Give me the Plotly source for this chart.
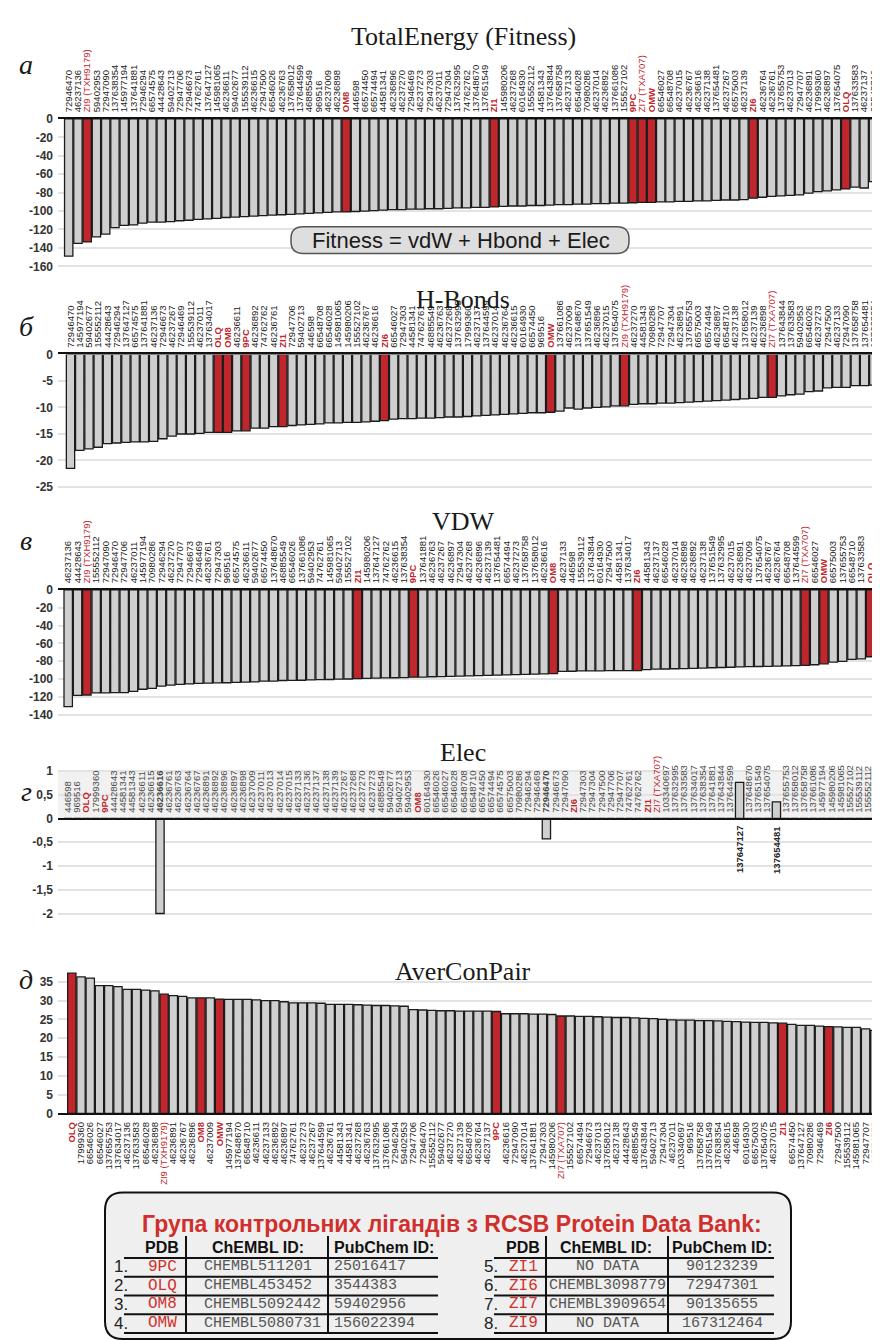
import plotly.graph_objects as go

W, H = 880, 1341
RED = '#c0272d'
BAR = '#cfcfcf'
EDGE = '#1b1b1b'
GRID = '#e3e3e3'
LBL_FONT = 'Liberation Sans Narrow, Arial Narrow, Liberation Sans, Arial'

CONTROLS = ['9PC', 'OLQ', 'OM8', 'OMW', 'ZI1', 'ZI6', 'ZI7 (TXA707)', 'ZI9 (TXH9179)']

# ---------------- data ----------------
te_labels = ['72946470', '46237136', 'ZI9 (TXH9179)', '59402953', '72947090', '137638354', '145977194', '137641881', '72946294', '66574575',
             '44428643', '59402713', '72947706', '72946673', '74762761', '137647127', '145981065', '46236611', '59402677', '155539112',
             '46236615', '72947500', '66546026', '46236763', '137658012', '137644599', '46885549', '969516', '46237009', '46236898',
             'OM8', '446598', '66574450', '66574494', '44581341', '46236896', '46237270', '72946469', '46237273', '72947303',
             '46237011', '72947304', '137632995', '74762762', '137648670', '137651549', 'ZI1', '145980206', '46237268', '60164930',
             '155552112', '44581343', '137643844', '137658758', '46237133', '66546028', '70980286', '46237014', '46236892', '137661086',
             '155527102', '9PC', 'ZI7 (TXA707)', 'OMW', '66546027', '66548708', '46237015', '46236767', '46236616', '46237138',
             '137654481', '46237267', '66575003', '46237139', 'ZI6', '46236764', '46236761', '137655753', '46237013', '72947707',
             '46236891', '17999360', '46236897', '137654075', 'OLQ', '137633583', '46237137', '66548710', '103340697', '137634017']
te_values = [-149, -135, -133.5, -128, -125, -118, -115.5, -115, -113, -112,
             -112, -111.5, -110.5, -110, -109, -108.5, -108, -107, -106.5, -106,
             -105.5, -105, -104.5, -104, -103.5, -103, -102.5, -102, -101.5, -101,
             -101, -100.5, -100, -99.5, -99, -98.5, -98.5, -98, -98, -97.5,
             -97.5, -97, -96.5, -96.5, -96, -96, -95.5, -95, -94.5, -94.5,
             -94, -94, -93.5, -93, -93, -92.5, -92.5, -92, -92, -91.5,
             -91.5, -91, -90.5, -90.5, -90, -90, -89.5, -89.5, -89, -89,
             -88.5, -88, -88, -87.5, -86, -85, -84, -83.5, -83, -82.5,
             -80.5, -79, -78, -77, -76, -74, -75, -68, -68, -66]

hb_labels = ['72946470', '145977194', '59402677', '155552112', '44428643', '72946294', '137647127', '66574575', '137641881', '46237136',
             '72946673', '46237267', '72946469', '155539112', '46237011', '137634017', 'OLQ', 'OM8', '46236611', '9PC',
             '46236892', '74762762', '46236761', 'ZI1', '72947706', '59402713', '446598', '66548708', '66546028', '145981065',
             '145980206', '155527102', '46236767', '46236616', 'ZI6', '66546027', '72947303', '44581341', '74762761', '46885549',
             '46236763', '46237268', '137632995', '17999360', '46237137', '137644599', '46237014', '46236764', '46236615', '60164930',
             '66574450', '969516', 'OMW', '137661086', '46237009', '137648670', '137651549', '46236896', '46237015', '137654075',
             'ZI9 (TXH9179)', '46237270', '44581343', '70980286', '72947707', '72947304', '46236891', '137655753', '66575003', '66574494',
             '46236897', '66548710', '46237138', '137658012', '46237139', '46236898', 'ZI7 (TXA707)', '137643844', '137633583', '59402953',
             '66546026', '46237273', '72947500', '46237133', '72947090', '137658758', '137654481', '137638354', '103340697', '46237013']
hb_values = [-21.5, -18.1, -17.8, -17.5, -16.8, -16.7, -16.6, -16.5, -16.5, -16.4,
             -15.9, -15.4, -15.0, -15.0, -14.9, -14.7, -14.7, -14.7, -14.4, -14.4,
             -13.9, -13.9, -13.6, -13.6, -13.4, -13.3, -13.2, -13.1, -12.9, -12.9,
             -12.8, -12.8, -12.7, -12.6, -12.5, -12.2, -12.1, -12.1, -12.0, -12.0,
             -11.9, -11.8, -11.8, -11.7, -11.6, -11.5, -11.4, -11.3, -11.2, -11.1,
             -11.0, -11.0, -10.9, -10.7, -10.1, -10.3, -10.1, -10.0, -9.9, -9.7,
             -9.7, -9.4, -9.3, -9.3, -9.2, -9.2, -9.1, -9.0, -8.9, -8.8,
             -8.7, -8.6, -8.5, -8.4, -8.3, -8.1, -8.1, -7.8, -7.6, -7.5,
             -7.0, -6.9, -6.3, -6.2, -6.2, -5.9, -5.9, -5.8, -5.6, -5.0]

vdw_labels = ['46237136', '44428643', 'ZI9 (TXH9179)', '155552112', '72947090', '72946470', '72947706', '46237011', '145977194', '70980286',
              '72946294', '46237270', '72947707', '72946673', '72946469', '46236761', '72947303', '969516', '66574575', '46236611',
              '59402677', '66574450', '137648670', '46885549', '66546026', '137661086', '59402953', '74762761', '145981065', '59402713',
              '155527102', 'ZI1', '145980206', '137647127', '74762762', '46236615', '137638354', '9PC', '137641881', '46236763',
              '46237267', '46236897', '72947304', '46237268', '46236896', '46237139', '137654481', '66574494', '46237273', '137658758',
              '137658012', '46236616', 'OM8', '46237133', '446598', '155539112', '137643844', '60164930', '72947500', '44581341',
              '137634017', 'ZI6', '44581343', '46237137', '66546028', '46237014', '46236898', '46236892', '46237138', '137651549',
              '137632995', '46237015', '46236891', '46237009', '137654075', '46236767', '46236764', '66548708', '137644599', 'ZI7 (TXA707)',
              '66546027', 'OMW', '66575003', '137655753', '66548710', '137633583', 'OLQ', '17999360', '103340697', '46237013']
vdw_values = [-131, -118.5, -118, -115.5, -115.5, -115.3, -115.2, -114, -111.5, -110.5,
              -108, -107, -106, -105.4, -105, -104.6, -104.3, -104.2, -103.8, -103.5,
              -103.3, -102.4, -102.3, -101.7, -101.5, -101.4, -101, -100.8, -100.6, -100.2,
              -100, -99.5, -99.3, -99, -98.8, -98.6, -98.4, -98, -97.8, -97.5,
              -97.3, -97, -96.8, -96.5, -96.3, -96, -95.7, -95.4, -95.1, -94.8,
              -94.5, -94.3, -94, -91.5, -91.3, -91, -91, -90.8, -90.7, -90.6,
              -90.5, -90.5, -89.5, -89, -88.8, -88.5, -88.3, -88, -87.7, -87.4,
              -87.1, -86.8, -86.5, -86.2, -86, -85.8, -85.5, -85.2, -85, -84.7,
              -84, -83, -81, -80.3, -78, -77.5, -75, -73, -58, -55]

elec_labels = ['446598', '969516', 'OLQ', '17999360', '9PC', '44428643', '44581341', '44581343', '46236611', '46236615',
               '46236616', '46236761', '46236763', '46236764', '46236767', '46236891', '46236892', '46236896', '46236897', '46236898',
               '46237009', '46237011', '46237013', '46237014', '46237015', '46237133', '46237136', '46237137', '46237138', '46237139',
               '46237267', '46237268', '46237270', '46237273', '46885549', '59402677', '59402713', '59402953', 'OM8', '60164930',
               '66546026', '66546027', '66546028', '66548708', '66548710', '66574450', '66574494', '66574575', '66575003', '70980286',
               '72946294', '72946469', '72946470', '72946673', '72947090', 'ZI6', '72947303', '72947304', '72947500', '72947706',
               '72947707', '74762761', '74762762', 'ZI1', 'ZI7 (TXA707)', '103340697', '137632995', '137633583', '137634017', '137638354',
               '137641881', '137643844', '137644599', '137647127', '137648670', '137651549', '137654075', '137654481', '137655753', '137658012',
               '137658758', '137661086', '145977194', '145980206', '145981065', '155527102', '155539112', '155552112', 'OMW', 'ZI9 (TXH9179)']
elec_values = [0, 0, 0, 0, 0, 0, 0, 0, 0, 0,
               -2.0, 0, 0, 0, 0, 0, 0, 0, 0, 0,
               0, 0, 0, 0, 0, 0, 0, 0, 0, 0,
               0, 0, 0, 0, 0, 0, 0, 0, 0, 0,
               0, 0, 0, 0, 0, 0, 0, 0, 0, 0,
               0, 0, -0.43, 0, 0, 0, 0, 0, 0, 0,
               0, 0, 0, 0, 0, 0, 0, 0, 0, 0,
               0, 0, 0, 0.76, 0, 0, 0, 0.35, 0, 0,
               0, 0, 0, 0, 0, 0, 0, 0, 0, 0]

acp_labels = ['OLQ', '17999360', '66546026', '66546027', '137655753', '137634017', '46237136', '137633583', '66546028', '46236898',
              'ZI9 (TXH9179)', '46236891', '46236767', '46236896', 'OM8', '46237009', 'OMW', '145977194', '137648670', '66548710',
              '46236611', '46237133', '46236892', '46236897', '74762761', '46237273', '46237267', '137644599', '46236761', '44581343',
              '44581341', '46237268', '46236763', '137632995', '137661086', '72946294', '59402953', '72947706', '72946470', '155552112',
              '59402677', '46237270', '46237139', '66548708', '46236764', '46237137', '9PC', '46236616', '72947090', '46237014',
              '137641881', '72947303', '145980206', 'ZI7 (TXA707)', '155527102', '66574494', '72946673', '46237013', '137658012', '46237138',
              '44428643', '46885549', '137643844', '59402713', '72947304', '46237011', '103340697', '969516', '137658758', '137651549',
              '137638354', '46236615', '446598', '60164930', '66575003', '137654075', '46237015', 'ZI1', '66574450', '137647127',
              '70980286', '72946469', 'ZI6', '72947500', '155539112', '145981065', '72947707', '66574575', '137654481', '74762762']
acp_values = [37.3, 36.3, 36.0, 34.0, 34.0, 33.7, 33.0, 33.0, 32.8, 32.6,
              31.7, 31.3, 31.1, 30.7, 30.7, 30.7, 30.4, 30.3, 30.3, 30.3,
              30.2, 30.0, 30.0, 29.7, 29.4, 29.4, 29.4, 29.3, 29.0, 29.0,
              29.0, 28.9, 28.8, 28.7, 28.7, 28.6, 28.5, 27.6, 27.5, 27.4,
              27.3, 27.3, 27.2, 27.2, 27.2, 27.2, 27.1, 26.5, 26.5, 26.5,
              26.4, 26.4, 26.3, 25.9, 25.9, 25.8, 25.8, 25.7, 25.6, 25.5,
              25.5, 25.4, 25.3, 25.2, 25.0, 24.9, 24.8, 24.8, 24.7, 24.7,
              24.6, 24.5, 24.4, 24.3, 24.2, 24.2, 24.1, 24.0, 23.7, 23.4,
              23.4, 23.2, 23.1, 23.0, 22.9, 22.9, 22.5, 22.1, 21.6, 21.2]

te_ticks = [0, -20, -40, -60, -80, -100, -120, -140, -160]
te_ticktext = ['0', '-20', '-40', '-60', '-80', '-100', '-120', '-140', '-160']
hb_ticks = [0, -5, -10, -15, -20, -25]
hb_ticktext = ['0', '-5', '-10', '-15', '-20', '-25']
vdw_ticks = [0, -20, -40, -60, -80, -100, -120, -140]
vdw_ticktext = ['0', '-20', '-40', '-60', '-80', '-100', '-120', '-140']
elec_ticks = [1, 0.5, 0, -0.5, -1, -1.5, -2]
elec_ticktext = ['1', '0,5', '0', '-0,5', '-1', '-1,5', '-2']
acp_ticks = [0, 5, 10, 15, 20, 25, 30, 35]
acp_ticktext = ['0', '5', '10', '15', '20', '25', '30', '35']

elec_bold = ['46236616', '72946470']
elec_below = ['137647127', '137654481']

pdb_codes = ['9PC', 'OLQ', 'OM8', 'OMW', 'ZI1', 'ZI6', 'ZI7', 'ZI9']
chembl_ids = ['CHEMBL511201', 'CHEMBL453452', 'CHEMBL5092442', 'CHEMBL5080731',
              'NO DATA', 'CHEMBL3098779', 'CHEMBL3909654', 'NO DATA']
pubchem_ids = ['25016417', '3544383', '59402956', '156022394',
               '90123239', '72947301', '90135655', '167312464']


# ---------------- helpers ----------------
def px_x(p):
    return p / W


def px_y(p):
    return 1 - p / H


def tick_html(lbl, bold=(), hide=()):
    if lbl in hide:
        return ''
    if lbl in CONTROLS:
        if '(' in lbl:
            return f'<span style="color:{RED}">{lbl}</span>'
        return f'<span style="color:{RED}"><b>{lbl}</b></span>'
    if lbl in bold:
        return f'<b>{lbl}</b>'
    return lbl


def rrect(x0, y0, x1, y1, r):
    pts = [
        f'M {px_x(x0 + r)},{px_y(y0)}',
        f'L {px_x(x1 - r)},{px_y(y0)}',
        f'Q {px_x(x1)},{px_y(y0)} {px_x(x1)},{px_y(y0 + r)}',
        f'L {px_x(x1)},{px_y(y1 - r)}',
        f'Q {px_x(x1)},{px_y(y1)} {px_x(x1 - r)},{px_y(y1)}',
        f'L {px_x(x0 + r)},{px_y(y1)}',
        f'Q {px_x(x0)},{px_y(y1)} {px_x(x0)},{px_y(y1 - r)}',
        f'L {px_x(x0)},{px_y(y0 + r)}',
        f'Q {px_x(x0)},{px_y(y0)} {px_x(x0 + r)},{px_y(y0)}',
        'Z']
    return ' '.join(pts)


L_EDGE, R_EDGE = 50, 880

panels = [
    dict(labels=te_labels, values=te_values, ticks=te_ticks, ticktext=te_ticktext,
         zero=105, ppu=149 / 160, yr=(-162, 0), c0=60.7, dx=9.25, side='top',
         title='TotalEnergy (Fitness)', ty=22, letter='а', ly=50),
    dict(labels=hb_labels, values=hb_values, ticks=hb_ticks, ticktext=hb_ticktext,
         zero=343, ppu=5.36, yr=(-25.6, 0), c0=62.5, dx=9.233, side='top',
         title='H-Bonds', ty=288, letter='б', ly=315),
    dict(labels=vdw_labels, values=vdw_values, ticks=vdw_ticks, ticktext=vdw_ticktext,
         zero=581, ppu=0.9, yr=(-142, 0), c0=60.2, dx=9.33, side='top',
         title='VDW', ty=512, letter='в', ly=531),
    dict(labels=elec_labels, values=elec_values, ticks=elec_ticks, ticktext=elec_ticktext,
         zero=812, ppu=48, yr=(-2.1, 1.05), c0=60, dx=9.2, side='free',
         title='Elec', ty=745, letter='г', ly=785),
    dict(labels=acp_labels, values=acp_values, ticks=acp_ticks, ticktext=acp_ticktext,
         zero=1110, ppu=3.8, yr=(0, 38), c0=63.8, dx=9.23, side='bottom',
         title='AverConPair', ty=967, letter='д', ly=975),
]

fig = go.Figure()
layout = dict(width=W, height=H, margin=dict(l=0, r=0, t=0, b=0),
              paper_bgcolor='white', plot_bgcolor='white', showlegend=False,
              bargap=0.08)
annotations = []
shapes = []

for i, p in enumerate(panels, start=1):
    xa = 'x' if i == 1 else f'x{i}'
    ya = 'y' if i == 1 else f'y{i}'
    xkey = 'xaxis' if i == 1 else f'xaxis{i}'
    ykey = 'yaxis' if i == 1 else f'yaxis{i}'
    n = len(p['labels'])
    top_px = p['zero'] - p['yr'][1] * p['ppu']
    bot_px = p['zero'] - p['yr'][0] * p['ppu']
    colors = [RED if l in CONTROLS else BAR for l in p['labels']]
    fig.add_trace(go.Bar(x=list(range(n)), y=p['values'], width=0.9,
                         marker=dict(color=colors, line=dict(color=EDGE, width=1.3)),
                         xaxis=xa, yaxis=ya, hoverinfo='skip', showlegend=False))
    is_elec = p['side'] == 'free'
    ttext = [tick_html(l, bold=elec_bold if is_elec else (),
                       hide=elec_below if is_elec else ()) for l in p['labels']]
    xr = [(L_EDGE - p['c0']) / p['dx'], (R_EDGE - p['c0']) / p['dx']]
    xdef = dict(domain=[px_x(L_EDGE), px_x(R_EDGE)], range=xr,
                tickmode='array', tickvals=list(range(n)), ticktext=ttext,
                tickangle=-90, showgrid=False, zeroline=False,
                showline=True, linecolor='#111', linewidth=1.6, ticks='',
                ticklabelstandoff=3,
                tickfont=dict(family=LBL_FONT, size=9.5,
                              color='#4a4a4a' if is_elec else '#222'),
                fixedrange=True)
    if is_elec:
        xdef.update(anchor='free', position=px_y(p['zero']), side='top')
    else:
        xdef.update(anchor=ya, side=p['side'])
    layout[xkey] = xdef
    layout[ykey] = dict(domain=[px_y(bot_px), px_y(top_px)], range=list(p['yr']),
                        anchor=xa, tickmode='array', tickvals=p['ticks'],
                        ticktext=p['ticktext'], showgrid=True, gridcolor=GRID,
                        gridwidth=1.5, zeroline=False, showline=False, ticks='',
                        ticklabelstandoff=4,
                        tickfont=dict(family='Liberation Sans, Arial', size=12,
                                      color='#333', weight='bold'),
                        fixedrange=True)
    annotations.append(dict(text=p['title'], xref='paper', yref='paper',
                            x=px_x(455), y=px_y(p['ty']), xanchor='center', yanchor='middle',
                            showarrow=False,
                            font=dict(family='Liberation Serif, Times New Roman', size=26,
                                      color='#1a1a1a')))
    annotations.append(dict(text=f'<i>{p["letter"]}</i>', xref='paper', yref='paper',
                            x=px_x(18), y=px_y(p['ly']), xanchor='center', yanchor='middle',
                            showarrow=False,
                            font=dict(family='Liberation Serif, Times New Roman', size=28,
                                      color='#1a1a1a')))
    if is_elec:
        shapes.append(dict(type='rect', xref='paper', yref=ya,
                           x0=px_x(L_EDGE), x1=1, y0=0, y1=1,
                           fillcolor='#f1f1f1', line=dict(width=0), layer='below'))
        for lbl in elec_below:
            k = p['labels'].index(lbl)
            annotations.append(dict(text=f'<b>{lbl}</b>', xref=xa, yref=ya, x=k, y=0,
                                    textangle=-90, xanchor='center', yanchor='top',
                                    yshift=-5, showarrow=False,
                                    font=dict(family=LBL_FONT, size=9.5, color='#222')))

# Fitness formula box
shapes.append(dict(type='path', xref='paper', yref='paper',
                   path=rrect(283, 214, 621, 241, 12),
                   fillcolor='#dedede', line=dict(color='#555', width=1.5), layer='above'))
annotations.append(dict(text='Fitness = vdW + Hbond + Elec', xref='paper', yref='paper',
                        x=px_x(453), y=px_y(228), xanchor='center', yanchor='middle',
                        showarrow=False,
                        font=dict(family='Liberation Sans, Arial', size=22, color='#1a1a1a')))

# ---------------- table ----------------
shapes.append(dict(type='path', xref='paper', yref='paper',
                   path=rrect(97, 1190, 783, 1338, 18),
                   fillcolor='#efefef', line=dict(color='#111', width=2), layer='above'))
annotations.append(dict(text='<b>Група контрольних лігандів з RCSB Protein Data Bank:</b>',
                        xref='paper', yref='paper', x=px_x(444), y=px_y(1222),
                        xanchor='center', yanchor='middle', showarrow=False,
                        font=dict(family='Liberation Sans, Arial', size=23, color='#d0302c')))

head_y = 1245
row_y = [1265, 1284, 1303, 1322]
line_y = [1256, 1275, 1294, 1313, 1332]
tables = [
    dict(num_x=122, pdb_x=154, sep=[178, 320], chem_x=250, chem_val_x=194,
         chem_val_anchor='left', pub_x=376, pub_val_x=324,
         pub_val_anchor='left', line=[116, 430], idx=range(0, 4)),
    dict(num_x=492, pdb_x=515, sep=[538, 660], chem_x=598, chem_val_x=599,
         chem_val_anchor='center', pub_x=714, pub_val_x=714,
         pub_val_anchor='center', line=[486, 766], idx=range(4, 8)),
]
hdr_font = dict(family='Liberation Sans, Arial', size=16, color='#111')
mono_font = dict(family='Liberation Mono, Courier New, monospace', size=15, color='#555')
for t in tables:
    for txt, xx in (('PDB', t['pdb_x']), ('ChEMBL ID:', t['chem_x']), ('PubChem ID:', t['pub_x'])):
        annotations.append(dict(text=f'<b>{txt}</b>', xref='paper', yref='paper',
                                x=px_x(xx), y=px_y(head_y), xanchor='center', yanchor='middle',
                                showarrow=False, font=hdr_font))
    for ly in line_y:
        shapes.append(dict(type='line', xref='paper', yref='paper',
                           x0=px_x(t['line'][0]), x1=px_x(t['line'][1]),
                           y0=px_y(ly), y1=px_y(ly), line=dict(color='#111', width=2)))
    for sx in t['sep']:
        shapes.append(dict(type='line', xref='paper', yref='paper',
                           x0=px_x(sx), x1=px_x(sx), y0=px_y(1234), y1=px_y(1332),
                           line=dict(color='#111', width=2)))
    for r, k in enumerate(t['idx']):
        yy = px_y(row_y[r])
        annotations.append(dict(text=f'{k + 1}.', xref='paper', yref='paper',
                                x=px_x(t['num_x']), y=yy, xanchor='right', yanchor='middle',
                                showarrow=False,
                                font=dict(family='Liberation Sans, Arial', size=17, color='#222')))
        annotations.append(dict(text=pdb_codes[k], xref='paper', yref='paper',
                                x=px_x(t['pdb_x']), y=yy, xanchor='center', yanchor='middle',
                                showarrow=False,
                                font=dict(family='Liberation Mono, Courier New, monospace',
                                          size=16, color='#d0302c')))
        annotations.append(dict(text=chembl_ids[k], xref='paper', yref='paper',
                                x=px_x(t['chem_val_x']), y=yy, xanchor=t['chem_val_anchor'],
                                yanchor='middle', showarrow=False, font=mono_font))
        annotations.append(dict(text=pubchem_ids[k], xref='paper', yref='paper',
                                x=px_x(t['pub_val_x']), y=yy, xanchor=t['pub_val_anchor'],
                                yanchor='middle', showarrow=False, font=mono_font))

layout['annotations'] = annotations
layout['shapes'] = shapes
fig.update_layout(**layout)
fig.write_html('out.html')
